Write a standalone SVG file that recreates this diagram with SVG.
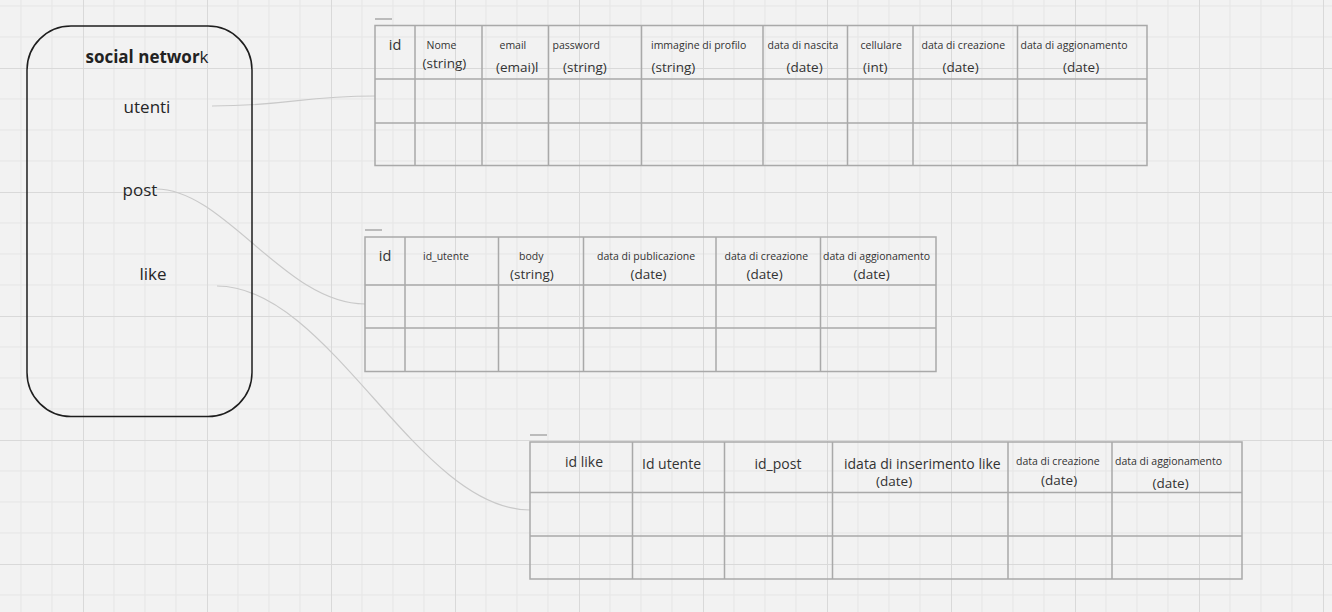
<svg xmlns="http://www.w3.org/2000/svg" width="1332" height="612" viewBox="0 0 1332 612">
  <defs>
    <pattern id="grid" x="83" y="68" width="124" height="124" patternUnits="userSpaceOnUse">
      <path d="M31 0V124M62 0V124M93 0V124M0 31H124M0 62H124M0 93H124" stroke="#e5e5e5" stroke-width="1" fill="none"/>
      <path d="M0.5 0V124M0 0.5H124" stroke="#d9d9d9" stroke-width="1" fill="none"/>
    </pattern>
    <style>
      .tbl { fill: none; stroke: #a9a9a9; stroke-width: 1.5; }
      .dash { stroke: #a9a9a9; stroke-width: 1.5; }
      .conn { fill: none; stroke: #c9c9c9; stroke-width: 1.2; }
      .box { fill: none; stroke: #1e1e1e; stroke-width: 1.5; }
      text { font-family: "Open Sans", "Noto Sans", "Liberation Sans", sans-serif; fill: #333333; }
      .lbl { font-size: 17px; fill: #262626; }
      .s { font-size: 10.5px; }
      .m { font-size: 13.5px; }
      .c { text-anchor: middle; }
    </style>
  </defs>
  <rect x="0" y="0" width="1332" height="612" fill="#f2f2f2"/>
  <rect x="0" y="0" width="1332" height="612" fill="url(#grid)"/>

  <g id="connectors">
    <path class="conn" d="M212,106 C290,106 300,96 375,96"/>
    <path class="conn" d="M156,189 C225,189 285,304 365,304"/>
    <path class="conn" d="M217,286 C330,286 417,510 530,510"/>
  </g>

  <g id="social-network">
    <rect class="box" x="27" y="26" width="225" height="390.5" rx="44" ry="44"/>
    <text x="147" y="63" class="c" style="font-size:17px;fill:#222"><tspan font-weight="bold">social networ</tspan>k</text>
    <text x="147" y="112.5" class="lbl c">utenti</text>
    <text x="122.5" y="196" class="lbl">post</text>
    <text x="139.5" y="280" class="lbl">like</text>
  </g>

  <g id="table-utenti">
    <line class="dash" x1="375" y1="19" x2="392" y2="19"/>
    <rect class="tbl" x="375" y="25.5" width="772" height="140"/>
    <path class="tbl" d="M375 79H1147M375 123H1147M415 25.5V165.5M482 25.5V165.5M548.5 25.5V165.5M641.5 25.5V165.5M763 25.5V165.5M847.5 25.5V165.5M913 25.5V165.5M1017.5 25.5V165.5"/>
    <text x="395" y="50" class="c" style="font-size:14.5px">id</text>
    <text x="426.5" y="48.5" class="s">Nome</text>
    <text x="422.5" y="67.5" class="m">(string)</text>
    <text x="499.5" y="48.5" class="s">email</text>
    <text x="496" y="72" class="m">(emai)l</text>
    <text x="552.5" y="48.5" class="s">password</text>
    <text x="563" y="72" class="m">(string)</text>
    <text x="651" y="48.5" class="s">immagine di profilo</text>
    <text x="651.5" y="72" class="m">(string)</text>
    <text x="767.5" y="48.5" class="s">data di nascita</text>
    <text x="786.5" y="72" class="m">(date)</text>
    <text x="860.5" y="48.5" class="s">cellulare</text>
    <text x="863" y="72" class="m">(int)</text>
    <text x="921.5" y="48.5" class="s">data di creazione</text>
    <text x="942.5" y="72" class="m">(date)</text>
    <text x="1020.5" y="48.5" class="s">data di aggionamento</text>
    <text x="1063" y="72" class="m">(date)</text>
  </g>

  <g id="table-post">
    <line class="dash" x1="365" y1="230" x2="382" y2="230"/>
    <rect class="tbl" x="365" y="237" width="571" height="134.5"/>
    <path class="tbl" d="M365 285H936M365 328H936M405 237V371.5M498.5 237V371.5M583.5 237V371.5M716 237V371.5M820.5 237V371.5"/>
    <text x="385" y="261" class="c" style="font-size:14.5px">id</text>
    <text x="423" y="259.5" class="s">id_utente</text>
    <text x="519" y="259.5" class="s">body</text>
    <text x="510" y="278.5" class="m">(string)</text>
    <text x="597" y="259.5" class="s">data di publicazione</text>
    <text x="648.5" y="278.5" class="m c">(date)</text>
    <text x="724.5" y="259.5" class="s">data di creazione</text>
    <text x="746.5" y="278.5" class="m">(date)</text>
    <text x="823" y="259.5" class="s">data di aggionamento</text>
    <text x="853.5" y="278.5" class="m">(date)</text>
  </g>

  <g id="table-like">
    <line class="dash" x1="530" y1="435" x2="547" y2="435"/>
    <rect class="tbl" x="530" y="442" width="712" height="137"/>
    <path class="tbl" d="M530 492.5H1242M530 536H1242M632.5 442V579M724.5 442V579M832.5 442V579M1008 442V579M1112 442V579"/>
    <text x="565" y="467" style="font-size:14px">id like</text>
    <text x="642" y="469" style="font-size:14px">Id utente</text>
    <text x="754.5" y="469" style="font-size:14px">id_post</text>
    <text x="844" y="469" style="font-size:14px">idata di inserimento like</text>
    <text x="876" y="485.5" class="m">(date)</text>
    <text x="1016" y="465" class="s">data di creazione</text>
    <text x="1041" y="484.5" class="m">(date)</text>
    <text x="1115" y="465" class="s">data di aggionamento</text>
    <text x="1152.5" y="488" class="m">(date)</text>
  </g>
</svg>
